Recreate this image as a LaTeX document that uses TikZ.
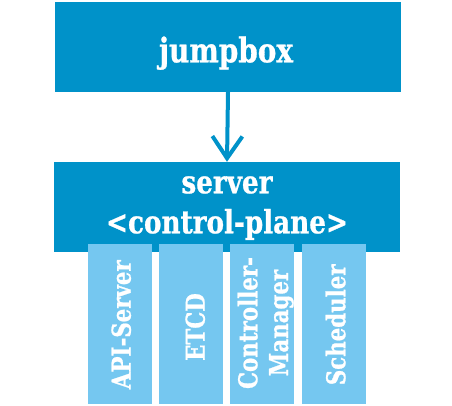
\documentclass[tikz,border=0pt]{standalone}
\usepackage{fontspec}
\newfontfamily\slab[FakeStretch=0.82,FakeBold=0.8]{DejaVu Serif}
\usetikzlibrary{arrows.meta}
\definecolor{darkblue}{HTML}{0092C9}
\definecolor{lightblue}{HTML}{75C7F0}
\begin{document}
\begin{tikzpicture}[x=1pt,y=1pt,
  bigbox/.style={fill=darkblue, draw=none, inner sep=0pt, minimum width=346pt, minimum height=90pt},
  compbox/.style={fill=lightblue, draw=none, inner sep=0pt, minimum width=64pt, minimum height=160pt},
  bigtext/.style={text=white, inner sep=0pt, anchor=base, align=center},
  comptext/.style={text=white, inner sep=0pt, anchor=base, rotate=90, align=center, font=\slab\bfseries\fontsize{26}{30.7}\selectfont},
  conn/.style={draw=darkblue, line width=4pt, -{Straight Barb[length=22pt,width=30pt]}}
]
\useasboundingbox (0,0) rectangle (452,406);
\node[bigbox] (jump) at (228,359) {};
\node[bigbox] (server) at (227,199) {};
\node[compbox] (apibox) at (120,82) {};
\node[compbox] (etcdbox) at (191,82) {};
\node[compbox] (cmbox) at (262,82) {};
\node[compbox] (schedbox) at (334,82) {};
\node[bigtext, font=\slab\bfseries\fontsize{34}{40}\selectfont] (jumplabel) at (226,343.7) {jumpbox};
\node[bigtext, font=\slab\bfseries\fontsize{32}{40}\selectfont] (serverlabel) at (227,172.7) {server\\<control-plane>};
\node[comptext] (api) at (130.7,81.3) {API-Server};
\node[comptext] (etcd) at (204.7,79) {ETCD};
\node[comptext] (cm) at (288,83) {Controller-\\Manager};
\node[comptext] (sched) at (345.3,81.2) {Scheduler};
\draw[conn] (jump.south) -- (server.north);
\end{tikzpicture}
\end{document}
